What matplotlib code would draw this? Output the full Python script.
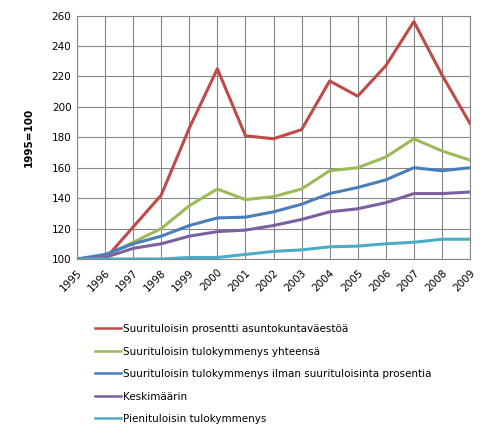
import matplotlib
matplotlib.use("Agg")
import matplotlib.pyplot as plt

# Data
years = [str(y) for y in range(1995, 2010)]
red_vals = [100, 100, 121, 142, 186, 225, 181, 179, 185, 217, 207, 227, 256, 221, 189]
green_vals = [100, 102, 111, 120, 135, 146, 139, 141, 146, 158, 160, 167, 179, 171, 165]
blue_vals = [100, 103, 110, 115, 122, 127, 127.5, 131, 136, 143, 147, 152, 160, 158, 160]
purple_vals = [100, 101, 107, 110, 115, 118, 119, 122, 126, 131, 133, 137, 143, 143, 144]
cyan_vals = [100, 100, 100, 100, 101, 101, 103, 105, 106, 108, 108.5, 110, 111, 113, 113]

labels = [
    "Suurituloisin prosentti asuntokuntaväestöä",
    "Suurituloisin tulokymmenys yhteensä",
    "Suurituloisin tulokymmenys ilman suurituloisinta prosentia",
    "Keskimäärin",
    "Pienituloisin tulokymmenys",
]
series = [red_vals, green_vals, blue_vals, purple_vals, cyan_vals]
colors = ["#BE4B48", "#9BBB59", "#4A7EBB", "#7D5FA0", "#4BACC6"]

fig = plt.figure(figsize=(4.98, 4.37), dpi=100)
ax = fig.add_axes([0.1546, 0.4073, 0.7892, 0.5572])

x = list(range(len(years)))
handles = []
for vals, lab, col in zip(series, labels, colors):
    h, = ax.plot(x, vals, color=col, linewidth=2.2, label=lab, zorder=3)
    handles.append(h)

ax.set_xlim(0, len(years) - 1)
ax.set_ylim(100, 260)
ax.set_yticks(range(100, 261, 20))
ax.set_xticks(x)
ax.set_xticklabels(years, rotation=45, ha="right", rotation_mode="anchor")
ax.tick_params(axis="both", labelsize=7.5, length=0, pad=4)
ax.tick_params(axis="x", pad=6)
ax.grid(True, color="#868686", linewidth=0.8)
ax.set_axisbelow(True)
for sp in ax.spines.values():
    sp.set_color("#868686")
    sp.set_linewidth(0.8)

fig.text(0.058, 0.686, "1995=100", rotation=90, ha="center", va="center",
         fontsize=7.5, fontweight="bold")

leg = fig.legend(handles=handles, loc="upper left", bbox_to_anchor=(0.182, 0.268),
                 frameon=False, fontsize=7.5, handlelength=2.5, handletextpad=0.2,
                 labelspacing=1.2, borderaxespad=0)
for line in leg.get_lines():
    line.set_linewidth(1.8)

fig.savefig("out.png", dpi=100)
